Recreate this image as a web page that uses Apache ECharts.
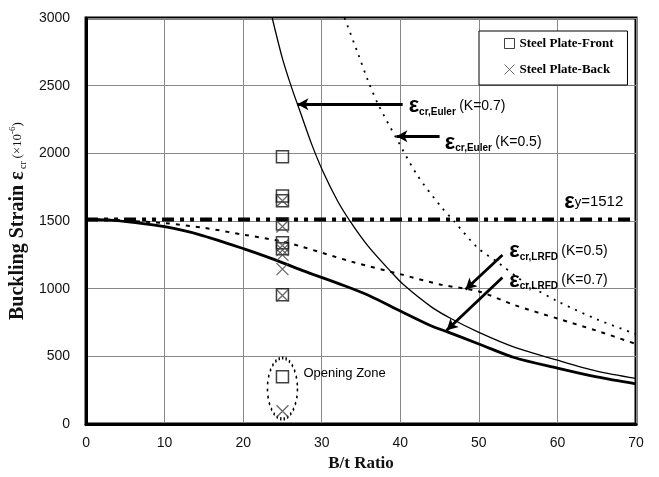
<!DOCTYPE html>
<html><head><meta charset="utf-8">
<script src="https://cdn.jsdelivr.net/npm/echarts@6/dist/echarts.min.js"></script>
<style>html,body{margin:0;padding:0;background:#fff}#c{width:659px;height:477px}</style>
</head><body><div id="c"></div>
<script>
// ---- data ----
var xTicks = [0, 10, 20, 30, 40, 50, 60, 70];
var yTicks = [0, 500, 1000, 1500, 2000, 2500, 3000];
var frontX = [25, 25, 25, 25, 25, 25, 25, 25];
var frontY = [1975, 1685, 1650, 1478, 1340, 1295, 955, 350];
var backX  = [25, 25, 25, 25, 25, 25, 25, 25];
var backY  = [1650, 1460, 1320, 1285, 1250, 1145, 950, 95];
var eulerK07 = [[23.7,3000],[25,2700],[26.2,2480],[27.3,2300],[28.7,2070],[30.2,1860],[32,1650],[33.6,1500],[35.9,1315],[38.9,1120],[40.5,1025],[43.9,868],[46.5,778],[50,678],[54.5,569],[60,472],[65,392],[70,338]];
var eulerK05 = [[32.9,3000],[34.6,2740],[35.9,2535],[37.2,2360],[39.7,2090],[42.2,1835],[45.2,1605],[46.9,1495],[49.8,1305],[52.4,1195],[56,1040],[60,908],[65,775],[70,665]];
var lrfdK07 = [[0,1512],[3,1507],[6,1490],[10,1458],[14.4,1400],[20.2,1293],[24,1215],[27.5,1136],[32.9,1022],[36,950],[40,835],[43.9,726],[46,681],[50,592],[54.5,492],[60,413],[65,348],[70,297]];
var lrfdK05 = [[0,1512],[3,1510],[6,1500],[10.2,1484],[15,1450],[20.2,1398],[24.9,1350],[27.5,1310],[33.8,1200],[40.1,1106],[45.2,1030],[50,980],[54.5,880],[60,780],[65,690],[70,592]];
var yieldStrain = 1512;
var legendNames = ['Steel Plate-Front', 'Steel Plate-Back'];

function pairs(xs, ys){ return xs.map(function(x,i){ return [x, ys[i]]; }); }

var sans = "'Liberation Sans', Arial, sans-serif";
var serif = "'Liberation Serif', 'Times New Roman', serif";
var narrow = "'Liberation Sans Narrow', 'Liberation Sans', Arial, sans-serif";

var annRich = {
  e: {fontFamily: sans, fontSize: 22, fontWeight: 'bold', color: '#000'},
  s: {fontFamily: sans, fontSize: 10, fontWeight: 'bold', color: '#000', verticalAlign: 'bottom'},
  k: {fontFamily: sans, fontSize: 14, color: '#000'},
  y: {fontFamily: sans, fontSize: 13, color: '#000'},
  v: {fontFamily: sans, fontSize: 15, color: '#000'},
  o: {fontFamily: sans, fontSize: 13, color: '#000'}
};

function txt(x, y, f){
  return {coord: [x, y], symbol: 'circle', symbolSize: 1, itemStyle: {color: 'rgba(0,0,0,0)'},
    label: {show: true, position: 'right', distance: 0, formatter: f, rich: annRich}};
}

var chart = echarts.init(document.getElementById('c'));
chart.setOption({
  animation: false,
  backgroundColor: '#fff',
  grid: {left: 83, right: 23, top: 18, bottom: 49, show: true, borderColor: '#000', borderWidth: 3, backgroundColor: 'transparent'},
  legend: {
    data: [
      {name: legendNames[0], icon: 'rect', itemStyle: {color: 'none', borderColor: '#111', borderWidth: 1}},
      {name: legendNames[1], icon: 'path://M0,0L10,10M10,0L0,10', itemStyle: {color: 'none', borderColor: '#444', borderWidth: 1}}
    ],
    orient: 'vertical', left: 479, top: 31,
    padding: [5, 14, 8, 23], itemGap: 11, itemWidth: 10, itemHeight: 10,
    backgroundColor: '#fff', borderColor: '#000', borderWidth: 1, borderRadius: 0,
    textStyle: {fontFamily: serif, fontWeight: 'bold', fontSize: 13, color: '#000'}
  },
  xAxis: {
    type: 'value', min: xTicks[0], max: xTicks[xTicks.length-1], interval: 10,
    axisLine: {lineStyle: {color: '#000', width: 3}}, axisTick: {show: false},
    splitLine: {lineStyle: {color: '#888', width: 1}},
    axisLabel: {fontFamily: narrow, fontSize: 14, color: '#111', margin: 12},
    name: 'B/t Ratio', nameLocation: 'middle', nameGap: 30,
    nameTextStyle: {fontFamily: serif, fontWeight: 'bold', fontSize: 17, color: '#111'}
  },
  yAxis: {
    type: 'value', min: yTicks[0], max: yTicks[yTicks.length-1], interval: 500,
    axisLine: {show: true, lineStyle: {color: '#000', width: 3}}, axisTick: {show: false},
    splitLine: {lineStyle: {color: '#888', width: 1}},
    axisLabel: {fontFamily: narrow, fontSize: 14, color: '#111', margin: 16, formatter: function(v){ return String(v); }},
    name: '{b|Buckling Strain ε}{s| cr }{p|(×10}{q|-6}{p|)}', nameLocation: 'middle', nameGap: 48,
    nameTextStyle: {color: '#111', rich: {
      b: {fontFamily: serif, fontWeight: 'bold', fontSize: 20, color: '#111'},
      s: {fontFamily: serif, fontSize: 10, color: '#111', verticalAlign: 'bottom'},
      p: {fontFamily: serif, fontSize: 13, color: '#111'},
      q: {fontFamily: serif, fontSize: 9, color: '#111', verticalAlign: 'top'}
    }}
  },
  series: [
    {name: 'Euler K=0.7', type: 'line', data: eulerK07, smooth: 0.3, showSymbol: false, silent: true,
      lineStyle: {color: '#000', width: 1.3}},
    {name: 'Euler K=0.5', type: 'line', data: eulerK05, smooth: 0.3, showSymbol: false, silent: true,
      lineStyle: {color: '#000', width: 1.8, type: [2, 6]}},
    {name: 'LRFD K=0.7', type: 'line', data: lrfdK07, smooth: 0.3, showSymbol: false, silent: true,
      lineStyle: {color: '#000', width: 2.8}},
    {name: 'LRFD K=0.5', type: 'line', data: lrfdK05, smooth: 0.3, showSymbol: false, silent: true,
      lineStyle: {color: '#000', width: 2, type: [4, 6]}},
    {name: 'Yield', type: 'line', data: [[xTicks[0], yieldStrain], [xTicks[xTicks.length-1], yieldStrain]],
      showSymbol: false, silent: true, lineStyle: {color: '#000', width: 4, type: [12, 6, 4, 6, 4, 6]},
      markLine: {
        silent: true, symbol: ['none', 'arrow'], symbolSize: [9, 11], label: {show: false},
        lineStyle: {color: '#000', width: 2.8, type: 'solid'},
        data: [
          [{coord: [40.3, 2363]}, {coord: [26.9, 2363]}],
          [{coord: [45.0, 2127]}, {coord: [39.5, 2127]}],
          [{coord: [53.0, 1249]}, {coord: [48.3, 995]}],
          [{coord: [53.0, 1083]}, {coord: [45.9, 693]}]
        ]
      },
      markPoint: {
        silent: true,
        data: [
          txt(41.0, 2350, '{e|ε}{s|cr,Euler} {k|(K=0.7)}'),
          txt(45.6, 2080, '{e|ε}{s|cr,Euler} {k|(K=0.5)}'),
          txt(53.8, 1280, '{e|ε}{s|cr,LRFD} {k|(K=0.5)}'),
          txt(53.8, 1060, '{e|ε}{s|cr,LRFD} {k|(K=0.7)}'),
          txt(60.8, 1640, '{e|ε}{y|y}{v|=1512}'),
          txt(27.6, 372, '{o|Opening Zone}'),
          {coord: [25, 263], symbol: 'circle', symbolSize: [30, 61],
            itemStyle: {color: 'none', borderColor: '#000', borderWidth: 2.2, borderType: [2, 3]}, label: {show: false}}
        ]
      }
    },
    {name: legendNames[0], type: 'scatter', data: pairs(frontX, frontY), symbol: 'rect', symbolSize: 12, silent: true,
      itemStyle: {color: 'none', borderColor: '#111', borderWidth: 1.5}, z: 5},
    {name: legendNames[1], type: 'scatter', data: pairs(backX, backY), symbol: 'path://M0,0L10,10M10,0L0,10', symbolSize: 12, silent: true,
      itemStyle: {color: 'none', borderColor: '#444', borderWidth: 1.3}, z: 6}
  ]
});
</script></body></html>
